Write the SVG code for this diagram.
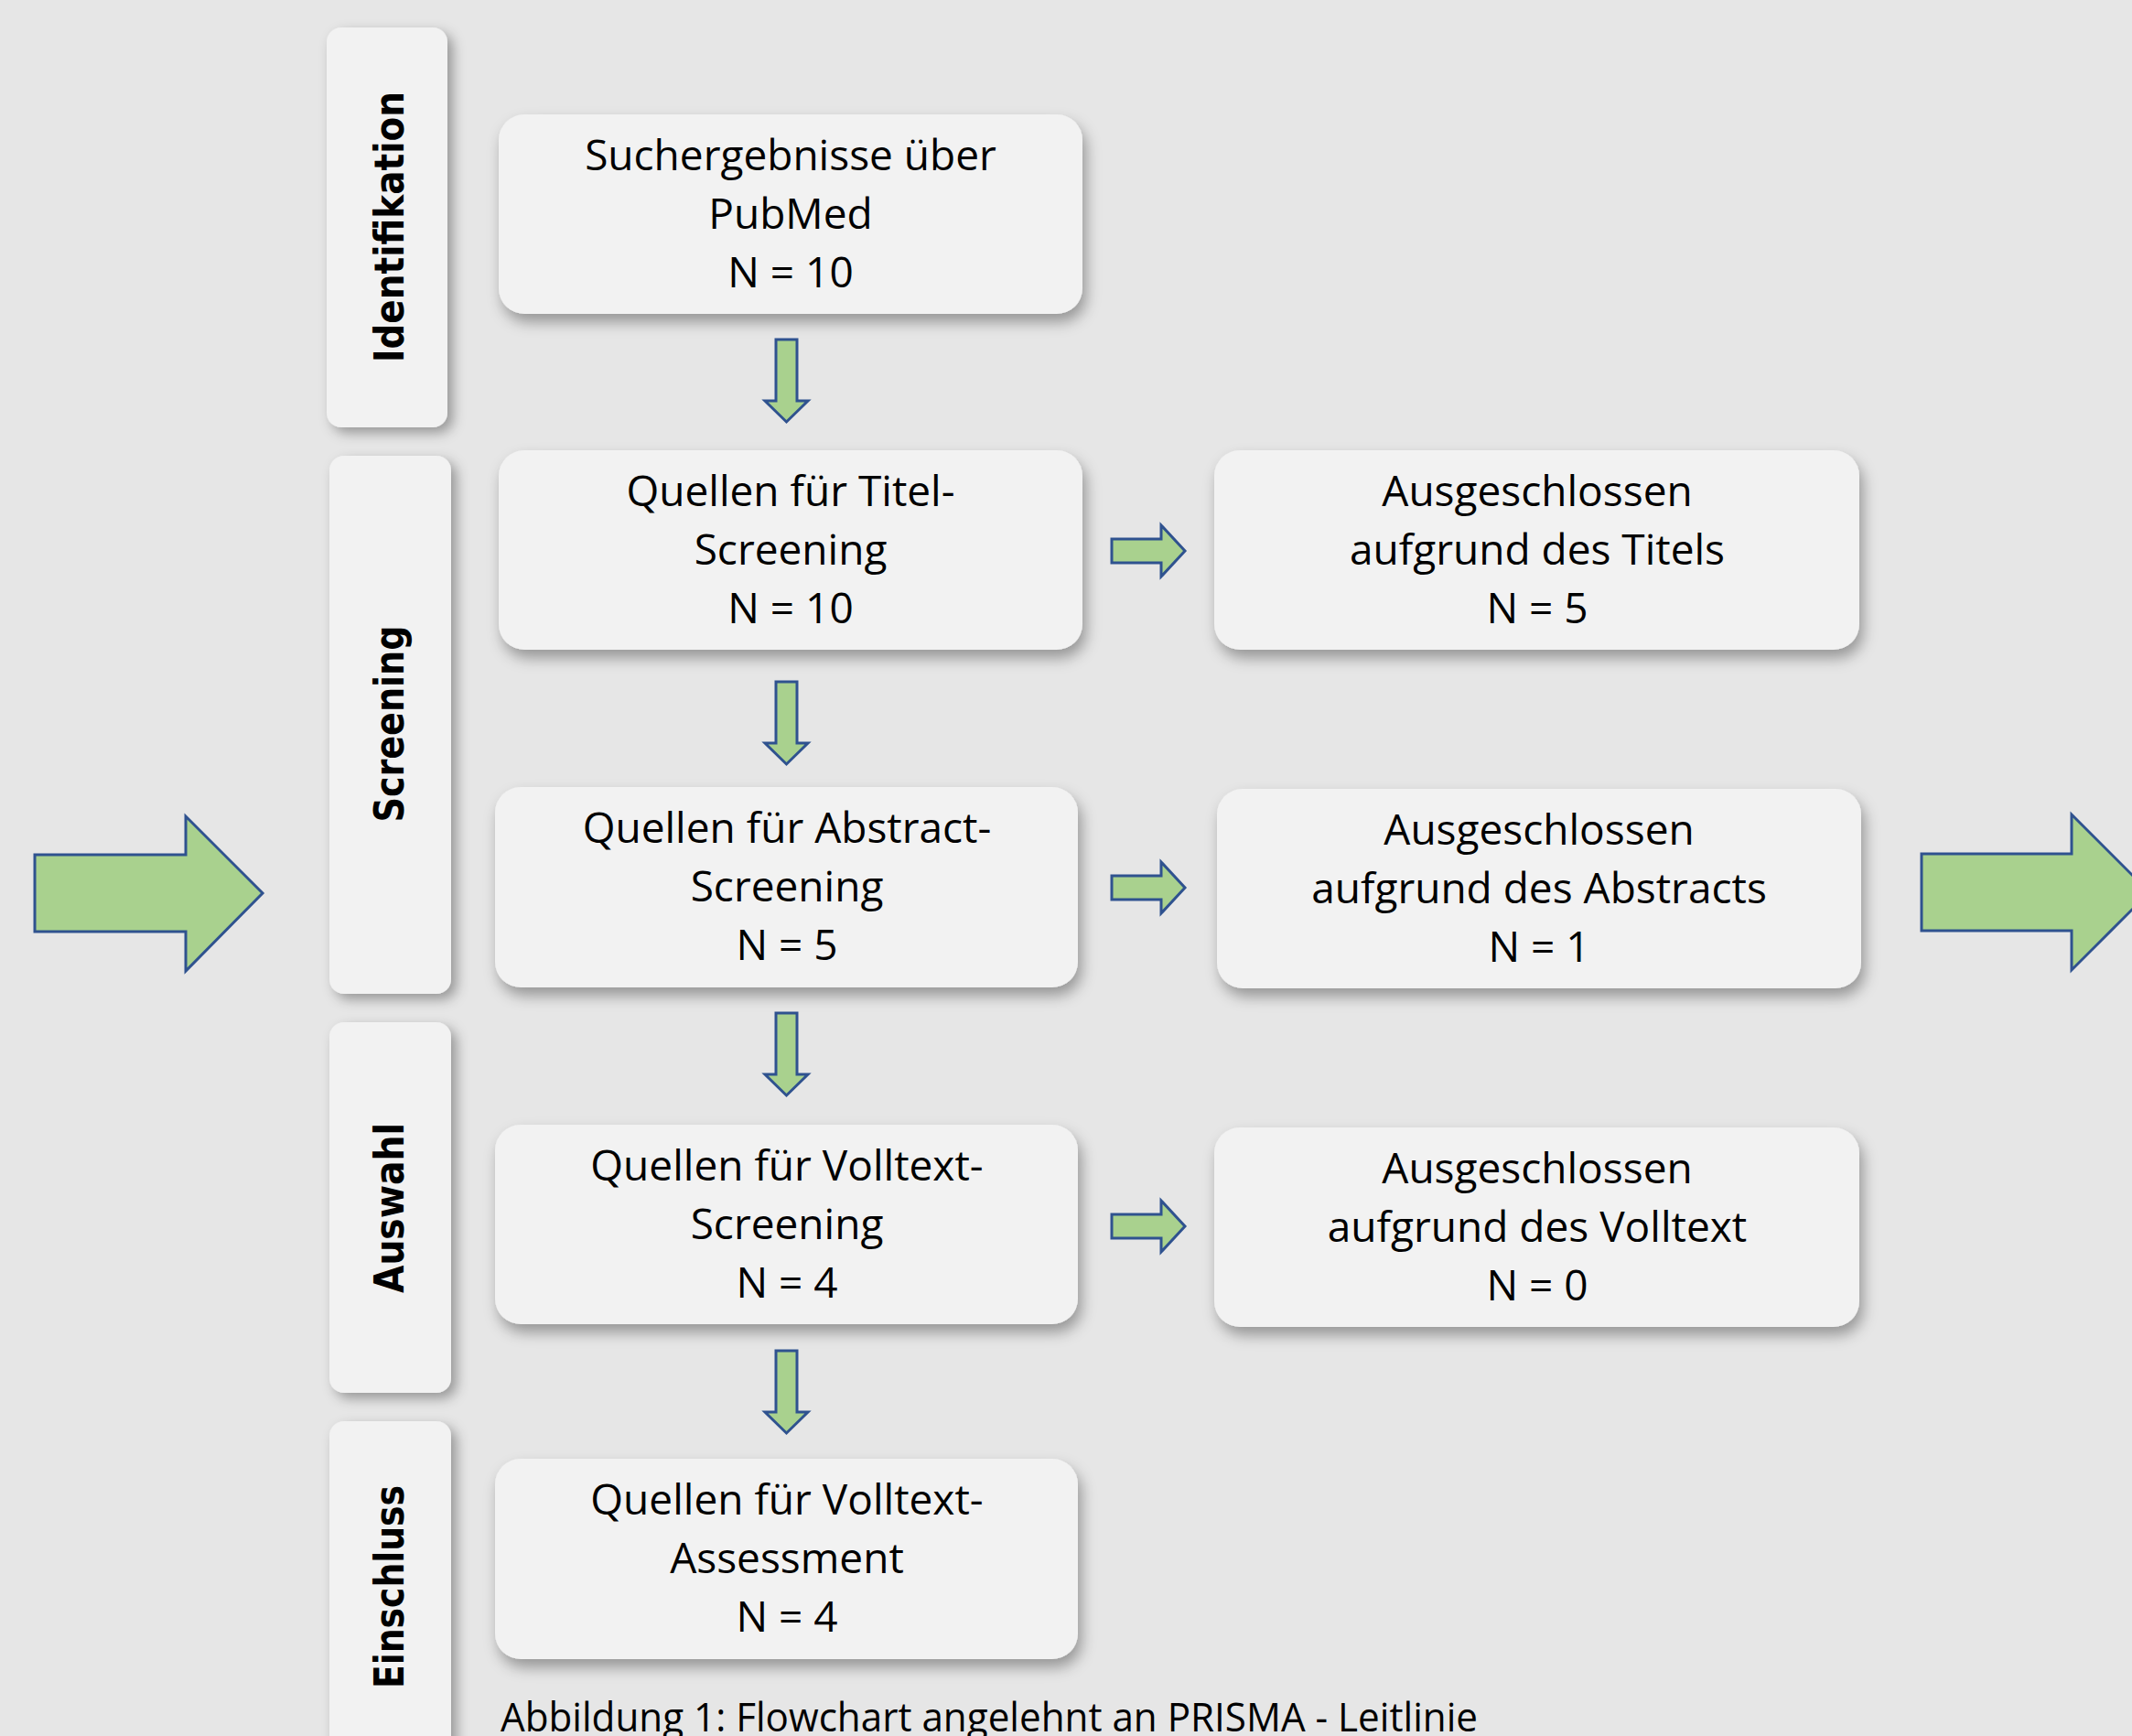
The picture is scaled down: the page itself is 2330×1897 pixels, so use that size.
<svg xmlns="http://www.w3.org/2000/svg" width="2330" height="1897" viewBox="0 0 2330 1897">
<defs>
<filter id="sh" x="-10%" y="-10%" width="125%" height="135%">
<feDropShadow dx="4" dy="9" stdDeviation="8" flood-color="#000" flood-opacity="0.35"/>
</filter>
<filter id="shp" x="-20%" y="-10%" width="150%" height="125%">
<feDropShadow dx="6" dy="6" stdDeviation="7" flood-color="#000" flood-opacity="0.35"/>
</filter>
</defs>
<style>
.box{fill:#f2f2f2;filter:url(#sh)}
.ph{fill:#f2f2f2;filter:url(#shp)}
.t{font-family:"Open Sans","Noto Sans",sans-serif;font-size:46px;fill:#000;text-anchor:middle}
.pt{font-family:"DejaVu Sans","Verdana",sans-serif;font-weight:bold;font-size:44px;fill:#000;text-anchor:middle}
.ar{fill:#a9d18e;stroke:#2f528f;stroke-width:3;stroke-linejoin:miter}
.cap{font-family:"Open Sans","Noto Sans",sans-serif;font-size:44px;fill:#000}
</style>
<rect width="2330" height="1897" fill="#e6e6e6"/>

<g id="phase-identifikation">
<rect class="ph" x="357" y="30" width="132" height="437" rx="16"/>
<text class="pt" transform="translate(441,248) rotate(-90)" textLength="296" lengthAdjust="spacingAndGlyphs">Identifikation</text>
</g>
<g id="phase-screening">
<rect class="ph" x="360" y="498" width="133" height="588" rx="16"/>
<text class="pt" transform="translate(441,791) rotate(-90)" textLength="215" lengthAdjust="spacingAndGlyphs">Screening</text>
</g>
<g id="phase-auswahl">
<rect class="ph" x="360" y="1117" width="133" height="405" rx="16"/>
<text class="pt" transform="translate(441,1320) rotate(-90)" textLength="186" lengthAdjust="spacingAndGlyphs">Auswahl</text>
</g>
<g id="phase-einschluss">
<rect class="ph" x="360" y="1553" width="133" height="380" rx="16"/>
<text class="pt" transform="translate(441,1734) rotate(-90)" textLength="222" lengthAdjust="spacingAndGlyphs">Einschluss</text>
</g>

<g id="n-suche">
<rect class="box" x="545" y="125" width="638" height="218" rx="28"/>
<text class="t" x="864" y="186">Suchergebnisse über</text>
<text class="t" x="864" y="250">PubMed</text>
<text class="t" x="864" y="314">N = 10</text>
</g>
<g id="n-titel">
<rect class="box" x="545" y="492" width="638" height="218" rx="28"/>
<text class="t" x="864" y="553">Quellen für Titel-</text>
<text class="t" x="864" y="617">Screening</text>
<text class="t" x="864" y="681">N = 10</text>
</g>
<g id="n-abstract">
<rect class="box" x="541" y="860" width="637" height="219" rx="28"/>
<text class="t" x="860" y="921">Quellen für Abstract-</text>
<text class="t" x="860" y="985">Screening</text>
<text class="t" x="860" y="1049">N = 5</text>
</g>
<g id="n-volltext">
<rect class="box" x="541" y="1229" width="637" height="218" rx="28"/>
<text class="t" x="860" y="1290">Quellen für Volltext-</text>
<text class="t" x="860" y="1354">Screening</text>
<text class="t" x="860" y="1418">N = 4</text>
</g>
<g id="n-assessment">
<rect class="box" x="541" y="1594" width="637" height="219" rx="28"/>
<text class="t" x="860" y="1655">Quellen für Volltext-</text>
<text class="t" x="860" y="1719">Assessment</text>
<text class="t" x="860" y="1783">N = 4</text>
</g>
<g id="n-ex-titel">
<rect class="box" x="1327" y="492" width="705" height="218" rx="28"/>
<text class="t" x="1680" y="553">Ausgeschlossen</text>
<text class="t" x="1680" y="617">aufgrund des Titels</text>
<text class="t" x="1680" y="681">N = 5</text>
</g>
<g id="n-ex-abstract">
<rect class="box" x="1330" y="862" width="704" height="218" rx="28"/>
<text class="t" x="1682" y="923">Ausgeschlossen</text>
<text class="t" x="1682" y="987">aufgrund des Abstracts</text>
<text class="t" x="1682" y="1051">N = 1</text>
</g>
<g id="n-ex-volltext">
<rect class="box" x="1327" y="1232" width="705" height="218" rx="28"/>
<text class="t" x="1680" y="1293">Ausgeschlossen</text>
<text class="t" x="1680" y="1357">aufgrund des Volltext</text>
<text class="t" x="1680" y="1421">N = 0</text>
</g>

<g id="connectors">
<path class="ar" d="M848,371 H871 V438 H883 L859.5,461 L836,438 H848 Z"/>
<path class="ar" d="M848,745 H871 V812 H883 L859.5,835 L836,812 H848 Z"/>
<path class="ar" d="M848,1107 H871 V1174 H883 L859.5,1197 L836,1174 H848 Z"/>
<path class="ar" d="M848,1476 H871 V1543 H883 L859.5,1566 L836,1543 H848 Z"/>
<path class="ar" d="M1215,589 H1269 V574 L1295,602 L1269,630 V615 H1215 Z"/>
<path class="ar" d="M1215,957 H1269 V942 L1295,970 L1269,998 V983 H1215 Z"/>
<path class="ar" d="M1215,1327 H1269 V1312 L1295,1340 L1269,1368 V1353 H1215 Z"/>
<path class="ar" d="M38,934 H203 V892 L287,976 L203,1061 V1018 H38 Z"/>
<path class="ar" d="M2100,933 H2264 V890 L2349,975 L2264,1060 V1017 H2100 Z"/>
</g>

<text class="cap" x="547" y="1892" textLength="1068" lengthAdjust="spacingAndGlyphs">Abbildung 1: Flowchart angelehnt an PRISMA - Leitlinie</text>
</svg>
